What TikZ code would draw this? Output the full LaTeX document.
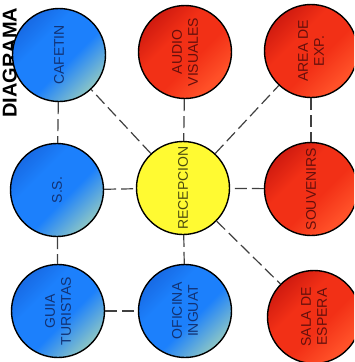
\documentclass[tikz,border=0pt]{standalone}
\usepackage{fontspec}
\setmainfont{Liberation Sans}
\usepackage{xcolor}
\definecolor{azul}{RGB}{28,128,252}
\definecolor{azulosc}{RGB}{24,108,230}
\definecolor{azulcla}{RGB}{135,195,200}
\definecolor{rojo}{RGB}{242,48,22}
\definecolor{rojoosc}{RGB}{210,28,16}
\definecolor{rojocla}{RGB}{255,80,40}
\definecolor{amarillo}{RGB}{255,250,50}
\definecolor{txtazul}{RGB}{18,50,115}
\definecolor{txtrojo}{RGB}{100,16,12}
\definecolor{txtamar}{RGB}{75,75,15}
\pgfdeclareverticalshading{sombraazul}{100bp}{color(0bp)=(azulcla); color(26bp)=(azulcla);
  color(44bp)=(azul); color(62bp)=(azul); color(74bp)=(azulosc); color(100bp)=(azulosc)}
\pgfdeclareverticalshading{sombraroja}{100bp}{color(0bp)=(rojocla); color(28bp)=(rojocla);
  color(44bp)=(rojo); color(60bp)=(rojo); color(74bp)=(rojoosc); color(100bp)=(rojoosc)}

\begin{document}
\begin{tikzpicture}[x=1pt,y=-1pt,
  bola/.style={circle,draw=black,line width=1.4pt,minimum size=93pt,inner sep=0pt,
    rotate=90,align=center,font=\fontsize{14}{16}\selectfont},
  azulbola/.style={bola,shading=sombraazul,shading angle=45,text=txtazul},
  rojobola/.style={bola,shading=sombraroja,shading angle=45,text=txtrojo},
  amarbola/.style={bola,fill=amarillo,text=txtamar},
  link/.style={draw=black!75,line width=1.2pt,dash pattern=on 12pt off 5pt}]
\useasboundingbox (0,0) rectangle (354,362);
\clip (0,0) rectangle (354,362);
% titulo
\node[rotate=90,anchor=base west,inner sep=0pt,font=\fontsize{20}{20}\bfseries] (titulo) at (16.5,118) {DIAGRAMA};
% primera fila
\node[azulbola] (cafetin) at (59,55) {CAFETIN};
\node[rojobola] (audio) at (185,52) {AUDIO\\VISUALES};
\node[rojobola] (area) at (311,51) {AREA DE\\EXP.};
% segunda fila
\node[azulbola] (ss) at (57,190) {S.S.};
\node[amarbola] (recepcion) at (183,188) {RECEPCION};
\node[rojobola] (souvenirs) at (311,189) {SOUVENIRS};
% tercera fila
\node[azulbola] (guia) at (58,311) {GUIA\\TURISTAS};
\node[azulbola] (oficina) at (185,311) {OFICINA\\INGUAT};
\node[rojobola] (sala) at (314,317) {SALA DE\\ESPERA};
% conexiones
\draw[link] (cafetin) -- (ss);
\draw[link] (ss) -- (guia);
\draw[link] (ss) -- (recepcion);
\draw[link] (guia) -- (oficina);
\draw[link] (oficina) -- (recepcion);
\draw[link] (audio) -- (recepcion);
\draw[link] (area) -- (souvenirs);
\draw[link] (souvenirs) -- (recepcion);
\draw[link] (recepcion) -- (cafetin);
\draw[link] (recepcion) -- (area);
\draw[link] (recepcion) -- (sala);
\end{tikzpicture}
\end{document}
